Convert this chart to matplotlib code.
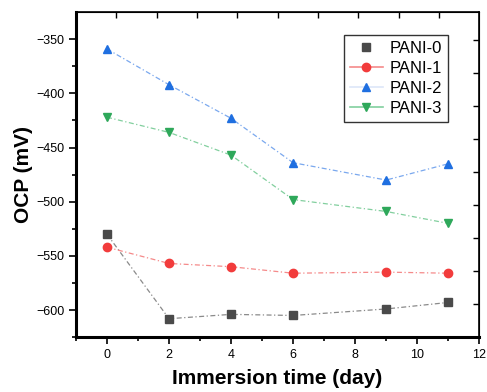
import numpy as np
import matplotlib.pyplot as plt
from matplotlib.lines import Line2D

plt.rcParams['font.family'] = ['Liberation Sans', 'DejaVu Sans']

days = [0, 2, 4, 6, 9, 11]
pani0 = [-530, -608, -604, -605, -599, -593]
pani1 = [-542, -557, -560, -566, -565, -566]
pani2 = [-359, -392, -423, -464, -480, -465]
pani3 = [-422, -436, -457, -498, -509, -520]

labels = ['PANI-0', 'PANI-1', 'PANI-2', 'PANI-3']
markers = ['s', 'o', '^', 'v']
colors = ['#4a4a4a', '#f23c3c', '#1f6fe0', '#2ea85a']
line_colors = ['#8a8a8a', '#f58a8a', '#7aa8ee', '#82cf9e']

fig = plt.figure(figsize=(4.87, 3.92), dpi=100)
ax = fig.add_axes([0.156, 0.140, 0.828, 0.829])

series = [pani0, pani1, pani2, pani3]
for vals, m, c, lc in zip(series, markers, colors, line_colors):
    ax.plot(days, vals, color=lc, lw=0.9, ls=(0, (4, 2, 1, 2)), zorder=1)
    ax.plot(days, vals, ls='none', marker=m, color=c, ms=6, zorder=2)

ax.set_xlim(-1, 12)
ax.set_ylim(-625, -325)
ax.set_xticks([0, 2, 4, 6, 8, 10, 12])
ax.set_xticks(np.arange(-1, 12, 1), minor=True)
ax.set_yticks([-600, -550, -500, -450, -400, -350])
ax.set_yticks(np.arange(-625, -325, 25), minor=True)
ax.tick_params(axis='both', which='major', direction='out', length=5, width=1.2, labelsize=9)
ax.tick_params(axis='both', which='minor', direction='out', length=3, width=1.2)

for side in ['left', 'bottom']:
    ax.spines[side].set_linewidth(2.2)
for side in ['top', 'right']:
    ax.spines[side].set_linewidth(1.2)

# top and right ticks (inward)
top = ax.secondary_xaxis('top')
top.set_xticks(-1 + 1.3 * np.arange(1, 10))
top.tick_params(direction='in', length=4, width=1.0, labeltop=False)
top.set_xticklabels([])
right = ax.secondary_yaxis('right')
right.set_yticks(-625 + 30.5 * np.arange(1, 10))
right.tick_params(direction='in', length=4, width=1.0, labelright=False)
right.set_yticklabels([])

ax.set_xlabel('Immersion time (day)', fontsize=15, fontweight='bold', labelpad=6)
ax.set_ylabel('OCP (mV)', fontsize=15, fontweight='bold', labelpad=2)

handles = [
    Line2D([], [], ls='none', marker='s', color=colors[0], ms=5.5),
    Line2D([], [], color=line_colors[1], lw=1.2, marker='o', mfc=colors[1], mec=colors[1], ms=6),
    Line2D([], [], color='#dde6f8', lw=1.2, marker='^', mfc=colors[2], mec=colors[2], ms=6),
    Line2D([], [], color=line_colors[3], lw=1.2, marker='v', mfc=colors[3], mec=colors[3], ms=6),
]
leg = ax.legend(handles, labels, loc='upper right', bbox_to_anchor=(0.923, 0.93),
                fontsize=12, frameon=True, fancybox=False, edgecolor='black',
                handlelength=2.0, handletextpad=0.4, labelspacing=0.3,
                borderpad=0.35, borderaxespad=0)
leg.get_frame().set_linewidth(1.0)

fig.savefig('out.png', dpi=100)
